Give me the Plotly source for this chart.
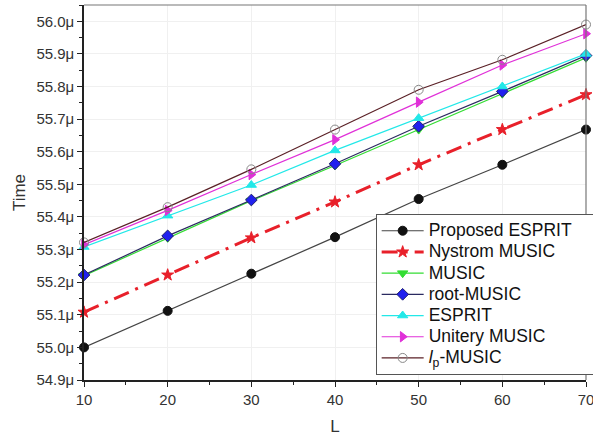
import plotly.graph_objects as go

L = [10, 20, 30, 40, 50, 60, 70]

proposed_esprit = [55.00, 55.112, 55.226, 55.338, 55.455, 55.560, 55.668]
nystrom_music   = [55.108, 55.222, 55.336, 55.446, 55.560, 55.668, 55.775]
music           = [55.220, 55.336, 55.450, 55.558, 55.668, 55.778, 55.888]
root_music      = [55.222, 55.342, 55.452, 55.563, 55.678, 55.785, 55.895]
esprit          = [55.308, 55.404, 55.498, 55.604, 55.703, 55.800, 55.900]
unitery_music   = [55.315, 55.420, 55.530, 55.637, 55.752, 55.866, 55.962]
lp_music        = [55.322, 55.430, 55.546, 55.668, 55.790, 55.882, 55.990]

names = ["Proposed ESPRIT", "Nystrom MUSIC", "MUSIC", "root-MUSIC", "ESPRIT",
         "Unitery MUSIC", "<i>l</i><sub>p</sub>-MUSIC"]

series = [
    (proposed_esprit, "#444444", None, "circle", "#111111", "#111111", 1.2),
    (nystrom_music, "#e8202a", "16px,7px,3px,7px", "star", "#e8202a", "#e8202a", 3),
    (music, "#33dd33", None, "triangle-down", "#33dd33", "#33dd33", 1.2),
    (root_music, "#2a2a60", None, "diamond", "#2020ee", "#22226e", 1.2),
    (esprit, "#22e8e8", None, "triangle-up", "#22e8e8", "#22e8e8", 1.2),
    (unitery_music, "#e030d8", None, "triangle-right", "#e030d8", "#e030d8", 1.2),
    (lp_music, "#5a2026", None, "circle-open", "#888888", "#777777", 1.2),
]

fig = go.Figure()
for i, ((vals, lc, dash, sym, mc, mlc, lw), name) in enumerate(zip(series, names)):
    pad = "&nbsp;" * 4 if i == 0 else ""
    fig.add_trace(go.Scatter(
        x=L, y=vals, mode="lines+markers",
        name=f"<span style='font-size:17.5px'>{name}{pad}</span>",
        line=dict(color=lc, width=lw, dash=dash),
        marker=dict(symbol=sym, size=9, color=mc, line=dict(color=mlc, width=1)),
        cliponaxis=False,
    ))

# gray top / right frame
fig.add_shape(type="line", xref="paper", yref="paper", x0=0, x1=1, y0=1, y1=1,
              line=dict(color="#777777", width=1.2))
fig.add_shape(type="line", xref="paper", yref="paper", x0=1, x1=1, y0=0, y1=1,
              line=dict(color="#777777", width=1.2))

fig.update_layout(
    width=593, height=436,
    margin=dict(l=84, r=7, t=5, b=56, autoexpand=False),
    paper_bgcolor="white", plot_bgcolor="white",
    font=dict(family="Arial, Liberation Sans, sans-serif", size=15, color="#333333"),
    showlegend=True,
    legend=dict(
        x=0.581, y=0.013, xanchor="left", yanchor="bottom",
        bgcolor="white", bordercolor="#555555", borderwidth=1,
        font=dict(size=14, color="#111111"), tracegroupgap=0,
        itemwidth=42,
    ),
    xaxis=dict(
        title=dict(text="L", font=dict(size=17), standoff=14),
        range=[10, 70], dtick=10, tick0=10,
        showline=True, linecolor="#222222", linewidth=1.5, mirror=False,
        ticks="outside", ticklen=5, tickcolor="#222222",
        minor=dict(ticks="outside", ticklen=3, dtick=5, tickcolor="#222222", showgrid=False),
        showgrid=True, gridcolor="#f0f0f0", zeroline=False, automargin=False,
        ticklabeloverflow="allow",
    ),
    yaxis=dict(
        title=dict(text="Time", font=dict(size=17), standoff=6),
        range=[54.9, 56.05], dtick=0.1, tick0=54.9,
        tickformat=".1f", ticksuffix="μ",
        showline=True, linecolor="#222222", linewidth=1.5, mirror=False,
        ticks="outside", ticklen=5, tickcolor="#222222",
        minor=dict(ticks="outside", ticklen=3, dtick=0.05, tickcolor="#222222", showgrid=False),
        showgrid=True, gridcolor="#f0f0f0", zeroline=False, automargin=False,
        ticklabeloverflow="allow",
    ),
)

fig.write_html("out.html", config={"displayModeBar": False},
               post_script="document.body.style.margin='0';")
